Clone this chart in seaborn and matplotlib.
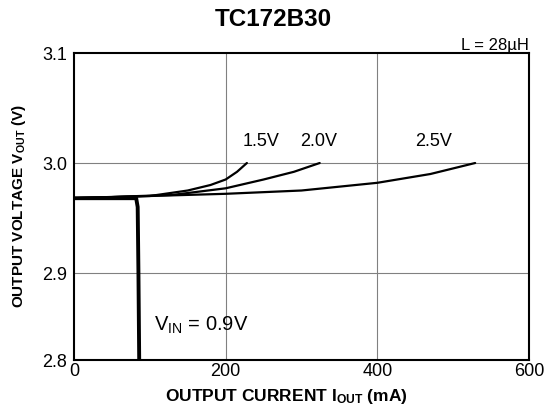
import numpy as np
import pandas as pd
import matplotlib
matplotlib.use("Agg")
import matplotlib.pyplot as plt
import seaborn as sns

# curves (output current mA, output voltage V)
vin_09_i = [0, 82, 84, 85, 86]
vin_09_v = [2.968, 2.968, 2.960, 2.900, 2.800]

vin_15_i = [0, 100, 150, 180, 200, 215, 228]
vin_15_v = [2.968, 2.970, 2.975, 2.980, 2.985, 2.992, 3.000]

vin_20_i = [0, 130, 200, 250, 290, 324]
vin_20_v = [2.968, 2.971, 2.977, 2.985, 2.992, 3.000]

vin_25_i = [0, 100, 200, 300, 400, 470, 529]
vin_25_v = [2.968, 2.970, 2.972, 2.975, 2.982, 2.990, 3.000]

x_ticks = [0, 200, 400, 600]
y_ticks = [2.8, 2.9, 3.0, 3.1]

sns.set_style("white")
plt.rcParams['font.family'] = ['Liberation Sans', 'DejaVu Sans']
plt.rcParams['mathtext.fontset'] = 'custom'
plt.rcParams['mathtext.rm'] = 'Liberation Sans'
plt.rcParams['mathtext.bf'] = 'Liberation Sans:bold'
for key in ['text.color', 'axes.labelcolor', 'xtick.color', 'ytick.color']:
    plt.rcParams[key] = 'black'

fig = plt.figure(figsize=(5.44, 4.09), dpi=100)
ax = fig.add_axes([0.136, 0.1198, 0.8364, 0.7506])

# the original sheet squeezes the 2.8-2.9 band, mimic it with a piecewise scale
seg_v = [2.8, 2.9, 3.1]
seg_p = [0.0, 87.0, 307.0]
ax.set_yscale('function', functions=(lambda v: np.interp(v, seg_v, seg_p),
                                     lambda p: np.interp(p, seg_p, seg_v)))

# grid lines
for gx in [200, 400]:
    ax.axvline(gx, color='#808080', lw=0.8, zorder=0)
for gy in [2.9, 3.0]:
    ax.axhline(gy, color='#808080', lw=0.8, zorder=0)

sns.lineplot(x=vin_25_i, y=vin_25_v, color='black', lw=1.6, sort=False, ax=ax)
sns.lineplot(x=vin_20_i, y=vin_20_v, color='black', lw=1.6, sort=False, ax=ax)
sns.lineplot(x=vin_15_i, y=vin_15_v, color='black', lw=1.6, sort=False, ax=ax)
sns.lineplot(x=vin_09_i, y=vin_09_v, color='black', lw=2.8, sort=False, ax=ax)

ax.set_xlim(0, 600)
ax.set_ylim(2.8, 3.1)
ax.set_xticks(x_ticks)
ax.set_yticks(y_ticks)
ax.set_xticklabels([str(t) for t in x_ticks], fontsize=13)
ax.set_yticklabels(['%.1f' % t for t in y_ticks], fontsize=13)
ax.tick_params(axis='x', length=0, pad=2)
ax.tick_params(axis='y', length=0, pad=5)
for s in ax.spines.values():
    s.set_color('black')
    s.set_linewidth(1.5)

ax.set_xlabel(r'OUTPUT CURRENT $\mathbf{I_{OUT}}$ (mA)', fontsize=12.5, fontweight='bold')
ax.xaxis.set_label_coords(0.466, -0.088)
ax.set_ylabel(r'OUTPUT VOLTAGE $\mathbf{V_{OUT}}$ (V)', fontsize=11, fontweight='bold', labelpad=10)
fig.text(273 / 544, 1 - 20 / 409, 'TC172B30', fontsize=17.5, fontweight='bold',
         ha='center', va='center')

ax.text(247, 3.012, '1.5V', fontsize=13, ha='center', va='bottom')
ax.text(323, 3.012, '2.0V', fontsize=13, ha='center', va='bottom')
ax.text(474, 3.012, '2.5V', fontsize=13, ha='center', va='bottom')
ax.text(106, 2.84, r'V$_{\mathrm{IN}}$ = 0.9V', fontsize=14.5, ha='left', va='center')
ax.text(600, 3.118, 'L = 28µH', fontsize=12, ha='right', va='bottom')

fig.savefig('out.png', dpi=100)
